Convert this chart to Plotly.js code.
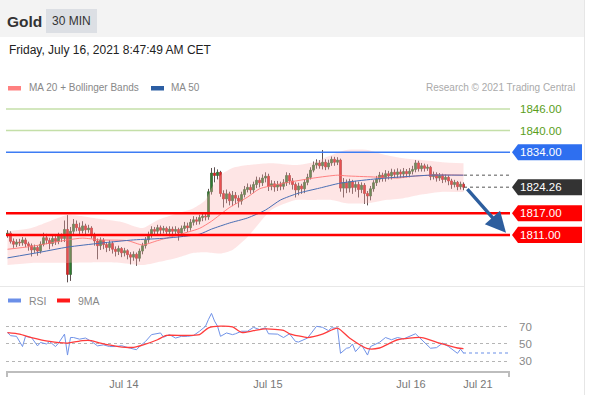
<!DOCTYPE html>
<html>
<head>
<meta charset="utf-8">
<script src="https://cdn.plot.ly/plotly-3.0.1.min.js"></script>
<style>html,body{margin:0;padding:0;background:#fff;}#chart{width:591px;height:395px;}</style>
</head>
<body>
<div id="chart"></div>
<script>
// ---- candles (30 min), index 0..152 ----
const candleIdx = Array.from({length:153},(_,i)=>i);
const open = [1811.0,1811.5,1809.2,1808.4,1809.0,1808.8,1809.6,1808.5,1808.0,1806.8,1807.5,
1806.5,1808.4,1810.2,1809.5,1808.6,1810.0,1809.2,1810.8,1810.0,1812.5,
1800.0,1812.0,1814.0,1813.0,1812.2,1813.5,1812.4,1812.9,1811.0,1809.3,
1808.0,1809.5,1808.3,1807.5,1808.6,1807.0,1806.4,1807.2,1806.0,1806.6,
1805.5,1804.8,1805.6,1804.5,1806.5,1808.0,1809.6,1811.0,1812.5,1812.0,
1813.0,1812.3,1812.8,1811.9,1812.6,1812.0,1812.5,1811.5,1812.8,1813.5,
1813.0,1814.5,1815.2,1814.8,1815.8,1816.2,1816.0,1823.0,1828.2,1827.5,
1828.4,1822.5,1821.0,1822.4,1820.5,1822.0,1821.2,1820.4,1822.2,1823.6,
1824.2,1823.5,1825.0,1826.2,1825.5,1826.8,1827.3,1824.5,1825.2,1824.3,
1825.0,1824.5,1825.5,1827.5,1826.0,1825.0,1823.5,1824.6,1823.8,1825.6,
1827.0,1829.0,1830.4,1831.0,1830.2,1831.2,1829.9,1831.0,1832.0,1831.2,
1831.8,1824.0,1825.5,1824.0,1825.8,1824.2,1825.0,1823.6,1824.8,1822.5,
1821.8,1823.8,1825.5,1826.5,1827.6,1826.8,1828.0,1827.4,1828.4,1827.8,
1828.5,1827.9,1828.6,1828.0,1828.7,1829.2,1831.0,1829.4,1830.2,1829.5,
1829.8,1827.2,1827.8,1826.8,1827.5,1826.4,1827.0,1826.0,1825.0,1825.6,
1824.4,1825.1];
const close = [1811.5,1809.2,1808.4,1809.0,1808.8,1809.6,1808.5,1808.0,1806.8,1807.5,
1806.5,1808.4,1810.2,1809.5,1808.6,1810.0,1809.2,1810.8,1810.0,1812.5,
1800.0,1812.0,1814.0,1813.0,1812.2,1813.5,1812.4,1812.9,1811.0,1809.3,
1808.0,1809.5,1808.3,1807.5,1808.6,1807.0,1806.4,1807.2,1806.0,1806.6,
1805.5,1804.8,1805.6,1804.5,1806.5,1808.0,1809.6,1811.0,1812.5,1812.0,
1813.0,1812.3,1812.8,1811.9,1812.6,1812.0,1812.5,1811.5,1812.8,1813.5,
1813.0,1814.5,1815.2,1814.8,1815.8,1816.2,1816.0,1823.0,1828.2,1827.5,
1828.4,1822.5,1821.0,1822.4,1820.5,1822.0,1821.2,1820.4,1822.2,1823.6,
1824.2,1823.5,1825.0,1826.2,1825.5,1826.8,1827.3,1824.5,1825.2,1824.3,
1825.0,1824.5,1825.5,1827.5,1826.0,1825.0,1823.5,1824.6,1823.8,1825.6,
1827.0,1829.0,1830.4,1831.0,1830.2,1831.2,1829.9,1831.0,1832.0,1831.2,
1831.8,1824.0,1825.5,1824.0,1825.8,1824.2,1825.0,1823.6,1824.8,1822.5,
1821.8,1823.8,1825.5,1826.5,1827.6,1826.8,1828.0,1827.4,1828.4,1827.8,
1828.5,1827.9,1828.6,1828.0,1828.7,1829.2,1831.0,1829.4,1830.2,1829.5,
1829.8,1827.2,1827.8,1826.8,1827.5,1826.4,1827.0,1826.0,1825.0,1825.6,
1824.4,1825.1,1824.26];
const high = [1812.3,1812.0,1810.0,1809.8,1809.9,1810.4,1810.2,1809.1,1808.6,1808.3,
1808.0,1809.2,1811.6,1811.3,1810.2,1811.0,1810.7,1811.6,1811.4,1815.0,
1816.5,1813.2,1815.4,1815.0,1814.4,1814.8,1814.1,1813.8,1813.4,1811.6,
1810.0,1810.3,1810.1,1809.0,1809.5,1809.2,1807.8,1808.0,1807.6,1807.4,
1807.0,1806.2,1806.4,1806.1,1807.2,1808.8,1810.4,1811.9,1813.4,1813.2,
1813.8,1813.6,1813.5,1813.3,1813.4,1813.3,1813.4,1813.0,1813.6,1814.6,
1814.4,1815.4,1816.2,1816.0,1816.6,1817.2,1817.0,1823.8,1829.6,1829.8,
1829.2,1828.8,1823.4,1823.6,1823.0,1823.2,1822.9,1822.0,1823.0,1824.6,
1825.3,1825.0,1825.8,1827.2,1827.0,1827.8,1828.4,1828.0,1826.2,1826.0,
1826.0,1825.8,1826.5,1828.4,1828.2,1826.8,1825.6,1825.5,1825.2,1826.4,
1828.0,1829.8,1831.4,1832.0,1831.8,1834.6,1832.0,1831.9,1832.8,1832.7,
1832.6,1832.2,1826.8,1826.4,1826.6,1826.3,1826.0,1825.8,1825.6,1825.4,
1823.2,1824.6,1826.2,1827.4,1828.5,1828.3,1829.0,1828.8,1829.4,1829.2,
1829.5,1829.2,1829.6,1829.3,1829.6,1830.2,1831.8,1831.6,1831.0,1830.8,
1830.6,1830.2,1828.6,1828.4,1828.2,1828.0,1827.8,1827.6,1826.6,1826.3,
1826.0,1825.8,1825.6];
const low = [1810.2,1808.6,1807.4,1807.6,1807.9,1808.0,1807.6,1806.6,1805.0,1806.0,
1805.2,1805.8,1807.8,1808.4,1807.0,1807.8,1808.2,1808.4,1809.0,1809.0,
1797.8,1798.2,1811.0,1812.0,1811.0,1811.4,1811.2,1811.6,1810.0,1808.0,
1804.2,1806.8,1807.0,1806.2,1806.5,1805.8,1805.0,1805.4,1804.8,1805.0,
1804.2,1802.8,1803.8,1802.4,1803.6,1805.6,1807.2,1808.8,1810.2,1810.8,
1811.2,1811.0,1811.4,1810.8,1810.6,1810.8,1810.9,1809.4,1810.8,1812.0,
1811.8,1812.2,1813.6,1813.8,1813.9,1814.8,1815.0,1815.2,1822.2,1825.6,
1826.4,1821.6,1818.6,1819.8,1819.2,1819.0,1819.6,1818.6,1819.4,1821.4,
1822.8,1822.4,1822.6,1824.0,1824.2,1824.6,1825.6,1823.2,1823.4,1823.0,
1823.2,1823.4,1823.6,1824.6,1825.0,1823.6,1821.4,1822.0,1822.4,1822.6,
1824.8,1826.4,1828.4,1829.4,1829.4,1829.2,1829.0,1829.2,1830.2,1830.2,
1830.4,1823.0,1821.4,1822.6,1822.8,1822.4,1823.0,1821.4,1822.6,1819.6,
1819.2,1820.6,1823.0,1824.6,1825.6,1825.8,1825.8,1826.4,1826.4,1826.8,
1826.8,1826.8,1826.8,1827.0,1827.0,1827.8,1828.4,1828.6,1828.6,1828.6,
1828.8,1826.2,1826.4,1825.8,1826.0,1825.4,1825.6,1824.8,1823.8,1824.2,
1823.4,1823.6,1823.4];

// ---- indicators ----
const ma50Idx = [0,11,20,31,42,53,64,68,74,80,86,91,97,104,111,122,131,141,152];
const ma50Val = [1804.6,1806.2,1807.6,1808.7,1809.6,1810.1,1811.2,1812.6,1814.3,1815.7,1817.9,1820.7,1822.6,1824.0,1825.4,1826.5,1827.1,1827.6,1827.6];
const ma20Idx = [0,8,20,25,31,40,45,50,56,64,68,74,80,84,91,102,110,113,122,130,135,141,144,152];
const ma20Val = [1807.0,1807.8,1809.6,1810.1,1809.6,1809.4,1808.2,1809.4,1810.8,1812.8,1814.8,1818.6,1821.5,1823.8,1825.2,1826.8,1827.6,1827.4,1827.1,1826.8,1827.3,1827.6,1827.7,1827.6];
const bbIdx = [0,8,20,25,31,38,45,50,56,62,66,68,71,75,80,88,96,102,108,113,120,126,132,138,145,152];
const bbUpper = [1812.0,1812.9,1816.5,1816.2,1815.4,1814.6,1812.9,1815.1,1816.8,1818.4,1820.7,1824.0,1827.6,1829.6,1830.4,1830.9,1830.4,1831.2,1833.2,1834.6,1834.6,1833.2,1832.3,1831.8,1831.2,1830.9];
const bbLower = [1802.6,1803.2,1803.2,1803.3,1803.4,1803.2,1802.6,1803.4,1804.5,1806.0,1806.2,1806.0,1805.8,1806.8,1810.4,1818.0,1820.7,1820.7,1820.7,1819.8,1819.8,1820.7,1821.2,1822.2,1823.0,1822.9];

const rsiIdx = [0,1,3,5,6,8,10,11,13,14,16,17,19,20,21,22,24,26,28,30,32,34,36,38,41,43,44,46,48,51,52,54,56,58,60,62,64,66,67,68,69,70,71,73,75,76,78,80,82,84,86,87,90,92,94,96,97,100,103,105,107,108,110,111,113,114,115,116,118,120,121,124,126,128,130,132,136,138,141,143,145,147,150,151,152];
const rsiVal = [63.7,59.8,59,47,59,57.6,47.8,51.8,50,53,47,51,61.6,37,57.6,57.6,55.7,57,53,47.8,49,47,47,48,45,43.3,47,53,61,63,58,61,57,59,59,60,65,70.8,79,86,77,71,59,63,61,62,65,65,69.6,67,69,62,61.6,57.6,62,53,52.3,57,70.8,69.6,65.7,69,68.6,39,45,45.7,50,41,49,37,47,52,57.6,55,57.6,56,62,55,45,45.7,51,47,39,44,39.4];
const ma9Idx = [0,4,8,14,20,25,28,31,37,42,45,50,53,59,64,67,71,75,78,82,86,92,94,97,100,105,110,114,120,124,130,138,144,150,152];
const ma9Val = [63.3,61.6,57.6,53,51,54,54,51,47,46,48.6,55,60,60,61,69,71,70,63.6,65.6,67.7,66,62,59.5,57.6,61.6,68.6,57,44.5,45.3,55,57.6,51,45.3,44.5];

// ---- levels & labels ----
const greenLevels = [1846, 1840];
const blueLevel = 1834;
const redLevels = [1817, 1811];
const lastPrice = 1824.26;
const maLast = 1827.6;
const rsiLast = 39.4;
const tickVals = [38.8, 86.8, 134.5, 156.8];
const tickText = ['Jul 14','Jul 15','Jul 16','Jul 21'];
const rsiTicks = [30, 50, 70];

// candle bodies (drawn over the wicks so the fill colour shows)
const bodyTop = open.map((o,i)=>Math.max(o, close[i]));
const bodyBot = open.map((o,i)=>Math.min(o, close[i]));

// pixel helpers (plot area: x 6..510, y 95..373)
const px = x => (x - 6) / 504;
const py = y => (373 - y) / 278;
const H = 8 / 3.5965; // half label height in price units

const FONT = 'Liberation Sans, Arial, Helvetica, sans-serif';

const traces = [
  {type:'scatter', x:bbIdx, y:bbUpper, mode:'lines', line:{width:0, shape:'spline', smoothing:0.6}, xaxis:'x', yaxis:'y', hoverinfo:'skip'},
  {type:'scatter', x:bbIdx, y:bbLower, mode:'lines', line:{width:0, shape:'spline', smoothing:0.6}, fill:'tonexty', fillcolor:'rgba(252,175,175,0.33)', xaxis:'x', yaxis:'y', hoverinfo:'skip'},
  {type:'candlestick', x:candleIdx, open:open, high:high, low:low, close:close, xaxis:'x', yaxis:'y',
    increasing:{line:{color:'#5e5050', width:1}, fillcolor:'#2f7d32'},
    decreasing:{line:{color:'#5e5050', width:1}, fillcolor:'#e02525'}, whiskerwidth:0},
  {type:'candlestick', x:candleIdx, open:open, high:bodyTop, low:bodyBot, close:close, xaxis:'x', yaxis:'y',
    increasing:{line:{color:'#2f7d32', width:0.5}, fillcolor:'#2f7d32'},
    decreasing:{line:{color:'#e02525', width:0.5}, fillcolor:'#e02525'}, whiskerwidth:0},
  {type:'scatter', x:ma20Idx, y:ma20Val, mode:'lines', line:{color:'rgba(255,110,110,0.85)', width:1, shape:'spline', smoothing:0.6}, xaxis:'x', yaxis:'y'},
  {type:'scatter', x:ma50Idx, y:ma50Val, mode:'lines', line:{color:'#4a6fb5', width:1, shape:'spline', smoothing:0.6}, xaxis:'x', yaxis:'y'},
  {type:'scatter', x:rsiIdx, y:rsiVal, mode:'lines', line:{color:'#7193e8', width:1}, xaxis:'x', yaxis:'y2'},
  {type:'scatter', x:ma9Idx, y:ma9Val, mode:'lines', line:{color:'#ff3b3b', width:1.3, shape:'spline', smoothing:0.6}, xaxis:'x', yaxis:'y2'}
];

const shapes = [
  // header band
  {type:'rect', xref:'paper', yref:'paper', x0:px(0), x1:px(584), y0:py(37), y1:py(0), fillcolor:'#f3f3f3', line:{width:0}, layer:'below'},
  {type:'rect', xref:'paper', yref:'paper', x0:px(46), x1:px(97), y0:py(33), y1:py(9), fillcolor:'#dcdfe4', line:{width:0}, layer:'below'},
  // right border & separator
  {type:'line', xref:'paper', yref:'paper', x0:px(584.5), x1:px(584.5), y0:py(395), y1:py(0), line:{color:'#e6e6e6', width:1}},
  {type:'line', xref:'paper', yref:'paper', x0:px(0), x1:px(584), y0:py(286.5), y1:py(286.5), line:{color:'#e8e8e8', width:1}},
  // legend swatches
  {type:'rect', xref:'paper', yref:'paper', x0:px(8), x1:px(21), y0:py(90.5), y1:py(86), fillcolor:'#ff8080', line:{width:0}},
  {type:'rect', xref:'paper', yref:'paper', x0:px(151), x1:px(164), y0:py(90.5), y1:py(86), fillcolor:'#2c5ea3', line:{width:0}},
  {type:'rect', xref:'paper', yref:'paper', x0:px(8), x1:px(21), y0:py(302.5), y1:py(298.5), fillcolor:'#6b8fe8', line:{width:0}},
  {type:'rect', xref:'paper', yref:'paper', x0:px(57), x1:px(70), y0:py(302.5), y1:py(298.5), fillcolor:'#ff1a1a', line:{width:0}},
  // bottom axis
  {type:'line', xref:'paper', yref:'paper', x0:px(6), x1:px(510), y0:py(372), y1:py(372), line:{color:'#bdbdbd', width:2}},
  {type:'line', xref:'paper', yref:'paper', x0:px(7), x1:px(7), y0:py(372), y1:py(377), line:{color:'#bdbdbd', width:2}},
  {type:'line', xref:'paper', yref:'paper', x0:px(509), x1:px(509), y0:py(372), y1:py(377), line:{color:'#bdbdbd', width:2}},
  // dotted extensions
  {type:'line', xref:'paper', yref:'y', x0:px(464), x1:px(510), y0:maLast, y1:maLast, line:{color:'#555', width:1, dash:'dot'}},
  {type:'line', xref:'paper', yref:'y', x0:px(464), x1:px(510), y0:lastPrice, y1:lastPrice, line:{color:'#555', width:1, dash:'dot'}},
  {type:'line', xref:'paper', yref:'y2', x0:px(463), x1:px(510), y0:rsiLast, y1:rsiLast, line:{color:'#6b8fe8', width:1.2, dash:'dot'}}
];

greenLevels.forEach(v => shapes.push({type:'line', xref:'paper', yref:'y', x0:0, x1:1, y0:v, y1:v, line:{color:'#c4dfa8', width:1.5}}));
shapes.push({type:'line', xref:'paper', yref:'y', x0:0, x1:1, y0:blueLevel, y1:blueLevel, line:{color:'#3d7cf4', width:1.5}});
redLevels.forEach(v => shapes.push({type:'line', xref:'paper', yref:'y', x0:0, x1:1, y0:v, y1:v, line:{color:'#ff0000', width:2.5}}));

function labelBox(v, color){
  const a = px(512), b = px(518), c = px(582);
  shapes.push({type:'path', xref:'paper', yref:'y',
    path:`M ${a},${v} L ${b},${v+H} L ${c},${v+H} L ${c},${v-H} L ${b},${v-H} Z`,
    fillcolor:color, line:{width:0}});
}
labelBox(blueLevel, '#2e6ff0');
labelBox(lastPrice, '#333333');
redLevels.forEach(v => labelBox(v, '#ff0000'));

const ann = [];
const txt = (x, y, text, size, color, anchor) => ann.push({xref:'paper', yref:'paper', x:x, y:y, text:text, showarrow:false, xanchor:anchor, yanchor:'middle', font:{family:FONT, size:size, color:color}});
txt(px(5), py(21), '<b>Gold</b>', 15.5, '#333', 'left');
txt(px(71.5), py(21), '30 MIN', 12, '#333', 'center');
txt(px(7), py(50), 'Friday, July 16, 2021 8:47:49 AM CET', 12, '#222', 'left');
txt(px(27), py(88), 'MA 20 + Bollinger Bands', 10, '#888', 'left');
txt(px(169), py(88), 'MA 50', 10, '#888', 'left');
txt(px(577), py(88), 'Research © 2021 Trading Central', 10, '#aaa', 'right');
txt(px(27), py(300.5), 'RSI', 10.5, '#888', 'left');
txt(px(76), py(300.5), '9MA', 10.5, '#888', 'left');

const lab = (v, color, fmt) => ann.push({xref:'paper', yref:'y', x:px(540.5), y:v, text:fmt, showarrow:false, xanchor:'center', yanchor:'middle', font:{family:FONT, size:11.5, color:color}});
greenLevels.forEach(v => lab(v, '#5a9e1a', v.toFixed(2)));
lab(blueLevel, '#ffffff', blueLevel.toFixed(2));
lab(lastPrice, '#ffffff', lastPrice.toFixed(2));
redLevels.forEach(v => lab(v, '#ffffff', v.toFixed(2)));

// forecast arrow
ann.push({xref:'paper', yref:'y', x:px(506), y:1811.6, ax:-40, ay:-45, text:'', showarrow:true,
  arrowhead:2, arrowsize:1.2, arrowwidth:3.4, arrowcolor:'#2d5e9e'});

const layout = {
  width:591, height:395,
  margin:{l:6, r:81, t:95, b:22},
  paper_bgcolor:'#ffffff', plot_bgcolor:'rgba(0,0,0,0)',
  showlegend:false, hovermode:false,
  font:{family:FONT},
  xaxis:{range:[-0.5,167.5], anchor:'y2', showgrid:false, zeroline:false, showline:false, ticks:'',
    tickmode:'array', tickvals:tickVals, ticktext:tickText, tickfont:{size:11, color:'#777'},
    ticklabelstandoff:3, rangeslider:{visible:false}, fixedrange:true},
  yaxis:{domain:[0.3165,1], range:[1797.06,1849.89], showgrid:false, zeroline:false, showticklabels:false, showline:false, fixedrange:true},
  yaxis2:{domain:[0,0.2986], range:[15.9,113.5], side:'right', tickmode:'array', tickvals:rsiTicks,
    gridcolor:'#b5b5b5', griddash:'dot', gridwidth:1, showline:false, zeroline:false, ticks:'',
    tickfont:{size:11.5, color:'#888'}, ticklabelstandoff:8, fixedrange:true},
  shapes:shapes,
  annotations:ann
};

Plotly.newPlot('chart', traces, layout, {staticPlot:true, displayModeBar:false});
</script>
</body>
</html>
